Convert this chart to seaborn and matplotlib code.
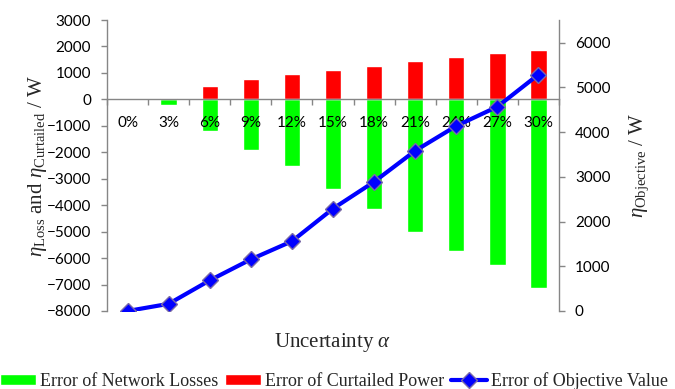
import numpy as np
import pandas as pd
import matplotlib
matplotlib.use("Agg")
import matplotlib.pyplot as plt
from matplotlib.ticker import FixedLocator, NullFormatter
import seaborn as sns

# Uncertainty levels and error values (W)
categories = ["0%", "3%", "6%", "9%", "12%", "15%", "18%", "21%", "24%", "27%", "30%"]
network_losses = [0, -200, -1180, -1900, -2500, -3370, -4140, -5010, -5730, -6270, -7140]
curtailed_power = [0, 40, 510, 760, 960, 1110, 1265, 1455, 1605, 1745, 1870]
objective_value = [0, 160, 685, 1155, 1560, 2290, 2890, 3585, 4140, 4570, 5290]

sns.set_theme(style="white")
plt.rcParams["font.family"] = ["Lato", "DejaVu Sans"]
plt.rcParams["mathtext.fontset"] = "custom"
plt.rcParams["mathtext.rm"] = "Liberation Serif"
plt.rcParams["mathtext.it"] = "Liberation Serif:italic"

GREY = "#868686"
SERIF = "Liberation Serif"

bars = pd.DataFrame({
    "alpha": categories * 2,
    "value": network_losses + curtailed_power,
    "series": ["Error of Network Losses"] * len(categories)
              + ["Error of Curtailed Power"] * len(categories),
})
line = pd.DataFrame({"pos": np.arange(len(categories)), "value": objective_value})

fig = plt.figure(figsize=(6.75, 3.89), dpi=100)
ax = fig.add_axes([107 / 675, 1 - 311 / 389, 452 / 675, 291 / 389])

sns.barplot(data=bars, x="alpha", y="value", hue="series", dodge=False,
            width=0.4, palette={"Error of Network Losses": "#00FF00",
                                "Error of Curtailed Power": "#FF0000"},
            saturation=1, order=categories, ax=ax, zorder=2)
ax.set_axisbelow(False)
ax.set_xlim(-0.5, len(categories) - 0.5)
ax.set_ylim(-8000, 3000)
ax.set_yticks(np.arange(-8000, 3001, 1000))

ax2 = ax.twinx()
sns.lineplot(data=line, x="pos", y="value", color="#0000FF", lw=3,
             marker="D", markersize=8, markeredgecolor="#7A6AA8",
             markeredgewidth=1.0, ax=ax2, label="Error of Objective Value",
             zorder=5)
ax2.set_ylim(0, 6510)
ax2.set_yticks(np.arange(0, 6001, 1000))

# spines: left/right grey axes, horizontal axis line at zero
for a in (ax, ax2):
    for s in a.spines.values():
        s.set_visible(False)
ax.spines["left"].set_visible(True)
ax.spines["left"].set_color(GREY)
ax.spines["bottom"].set_visible(True)
ax.spines["bottom"].set_color(GREY)
ax.spines["bottom"].set_position(("data", 0))
ax2.spines["right"].set_visible(True)
ax2.spines["right"].set_color(GREY)
for s in ("left", "bottom"):
    ax.spines[s].set_linewidth(1.0)
ax2.spines["right"].set_linewidth(1.0)

ax.xaxis.set_minor_locator(FixedLocator(np.arange(-0.5, len(categories), 1.0)))
ax.xaxis.set_minor_formatter(NullFormatter())
ax.tick_params(axis="x", which="major", length=0, pad=12, labelsize=11,
               labelcolor="black")
ax.tick_params(axis="x", which="minor", length=4.5, width=1, color=GREY,
               direction="out", bottom=True)
ax.tick_params(axis="y", length=4.5, width=1, color=GREY, direction="out",
               left=True, pad=7, labelsize=11, labelcolor="black")
ax2.tick_params(axis="y", length=4.5, width=1, color=GREY, direction="out",
                right=True, pad=7, labelsize=11, labelcolor="black")

ax.set_xlabel(r"Uncertainty $\alpha$", fontsize=15, family=SERIF)
ax.xaxis.set_label_coords(0.5, -0.07)
ax.set_ylabel(r"$\eta_{\mathrm{Loss}}$ and $\eta_{\mathrm{Curtailed}}$ / W",
              fontsize=15, family=SERIF)
ax.yaxis.set_label_coords(-0.128, 0.50)
ax2.set_ylabel(r"$\eta_{\mathrm{Objective}}$ / W", fontsize=15, family=SERIF,
               rotation=90)
ax2.yaxis.set_label_coords(1.152, 0.50)

h1, l1 = ax.get_legend_handles_labels()
h2, l2 = ax2.get_legend_handles_labels()
for a in (ax, ax2):
    if a.get_legend() is not None:
        a.get_legend().remove()
order = [l1.index("Error of Network Losses"), l1.index("Error of Curtailed Power")]
handles = [h1[i] for i in order] + h2
labels = [l1[i] for i in order] + l2
fig.legend(handles, labels, loc="center", ncol=3, frameon=False,
           bbox_to_anchor=(334 / 675, 1 - 381 / 389),
           prop={"family": SERIF, "size": 13}, handlelength=2.0,
           handleheight=0.6, handletextpad=0.2, columnspacing=0.4,
           borderaxespad=0, borderpad=0)

fig.savefig("out.png", dpi=100)
